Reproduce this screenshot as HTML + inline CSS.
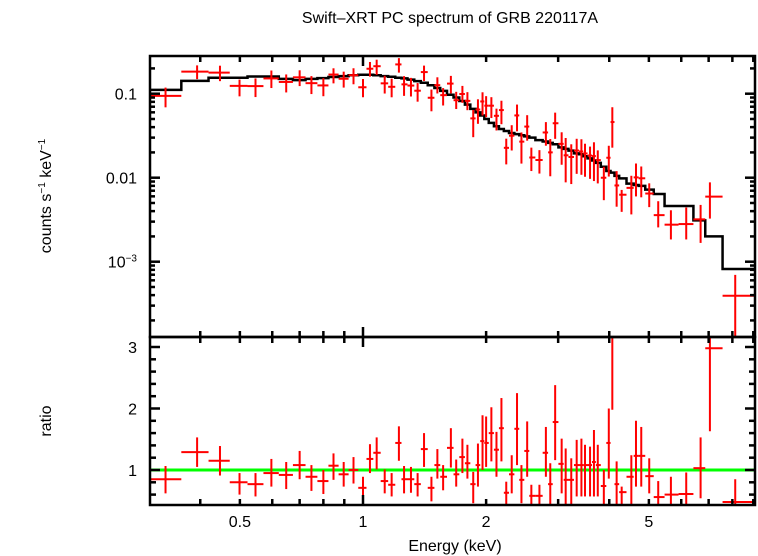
<!DOCTYPE html>
<html><head><meta charset="utf-8"><style>
html,body{margin:0;padding:0;background:#fff;}
svg{display:block;font-family:"Liberation Sans",sans-serif;}
</style></head><body>
<svg id="chart" width="758" height="556" viewBox="0 0 758 556">
<text x="450" y="23" text-anchor="middle" font-size="16">Swift–XRT PC spectrum of GRB 220117A</text>
<text transform="translate(51,196) rotate(-90)" text-anchor="middle" font-size="16">counts s<tspan font-size="10" dy="-6">−1</tspan><tspan dy="6"> keV</tspan><tspan font-size="10" dy="-6">−1</tspan></text>
<text transform="translate(51,421) rotate(-90)" text-anchor="middle" font-size="16">ratio</text>
<text x="455" y="551" text-anchor="middle" font-size="16">Energy (keV)</text>
<defs>
<clipPath id="cTop"><rect x="150" y="56" width="605" height="281"/></clipPath>
<clipPath id="cBot"><rect x="150" y="337" width="605" height="168"/></clipPath>
</defs>
<g id="topPanel" clip-path="url(#cTop)"></g>
<g id="botPanel" clip-path="url(#cBot)"></g>
<g id="axes"></g>
</svg>
<script>
const energy=[0.329,0.393,0.447,0.499,0.546,0.597,0.649,0.70,0.748,0.80,0.847,0.897,0.948,1.0,1.04,1.08,1.13,1.175,1.224,1.26,1.31,1.36,1.41,1.47,1.52,1.57,1.64,1.69,1.75,1.80,1.86,1.91,1.96,2.0,2.06,2.12,2.18,2.24,2.31,2.38,2.44,2.52,2.58,2.70,2.80,2.87,2.95,3.06,3.13,3.23,3.33,3.42,3.49,3.59,3.67,3.75,3.88,3.99,4.07,4.17,4.29,4.53,4.65,4.79,5.01,5.27,5.66,6.17,6.69,7.05,8.13];
const ratio=[0.85,1.29,1.15,0.80,0.77,0.95,0.92,1.08,0.89,0.82,1.07,0.93,1.0,0.71,1.18,1.28,0.82,0.76,1.44,0.85,0.85,0.77,1.34,0.71,1.08,0.89,1.36,0.93,1.21,1.11,0.77,1.08,1.47,1.44,1.60,1.33,1.68,0.63,0.93,1.67,0.84,1.31,0.58,0.58,1.28,0.77,1.78,1.10,0.84,0.84,1.08,1.08,1.08,1.08,1.13,1.08,0.74,1.44,4.0,0.77,0.64,0.89,1.23,1.23,0.9,0.56,0.6,0.61,1.03,2.98,0.48];
const ratioHi=[1.065,1.53,1.39,0.95,0.95,1.18,1.13,1.31,1.08,1.0,1.27,1.13,1.21,0.89,1.42,1.53,1.01,0.95,1.71,1.065,1.05,0.95,1.60,0.89,1.34,1.08,1.68,1.17,1.51,1.41,0.97,1.43,1.89,1.87,2.02,1.62,2.17,0.81,1.24,2.25,1.08,1.79,0.76,0.76,1.70,1.11,2.38,1.51,1.35,1.19,1.49,1.51,1.41,1.38,1.65,1.41,1.0,2.0,6.0,1.14,0.73,1.24,1.80,1.70,1.19,0.82,0.89,0.96,1.53,4.4,0.85];
const ratioLo=[0.62,1.05,0.91,0.60,0.57,0.73,0.69,0.85,0.66,0.61,0.84,0.73,0.78,0.54,0.95,1.01,0.62,0.57,1.15,0.62,0.63,0.57,1.05,0.49,0.86,0.67,1.04,0.73,0.95,0.86,0.46,0.73,1.0,1.05,1.14,0.89,1.14,0.40,0.62,1.08,0.46,0.89,0.40,0.40,0.89,0.40,1.16,0.62,0.40,0.40,0.57,0.57,0.57,0.57,0.57,0.57,0.40,0.86,1.98,0.43,0.40,0.43,0.73,0.73,0.62,0.40,0.40,0.40,0.54,1.63,0.05];
const model=[0.111,0.142,0.155,0.155,0.16,0.16,0.15,0.145,0.15,0.153,0.158,0.162,0.166,0.168,0.168,0.166,0.162,0.159,0.155,0.152,0.147,0.141,0.135,0.126,0.117,0.108,0.097,0.090,0.082,0.074,0.066,0.060,0.055,0.050,0.045,0.041,0.038,0.036,0.034,0.033,0.032,0.031,0.030,0.028,0.027,0.026,0.025,0.023,0.022,0.021,0.0195,0.019,0.018,0.017,0.016,0.015,0.0135,0.012,0.0115,0.0105,0.0098,0.0085,0.0082,0.008,0.0072,0.0064,0.0046,0.0046,0.0031,0.0020,0.00082];
const xTickLabels=["0.5","1","2","5"];
const xTickValues=[0.5,1,2,5];
const yTopLabels=["0.1","0.01"];
const yTopValues=[0.1,0.01];
const yRatioLabels=["1","2","3"];
const yRatioValues=[1,2,3];

const NS="http://www.w3.org/2000/svg";
const L=150,R=755,T=56,M=337,B=505;
const xs=e=>363+409*Math.log10(e);
const yt=v=>93.7-84*Math.log10(v/0.1);
const yr=r=>470-61.5*(r-1);
function mk(parent,tag,attrs){const el=document.createElementNS(NS,tag);for(const k in attrs)el.setAttribute(k,attrs[k]);parent.appendChild(el);return el;}
const gTop=document.getElementById('topPanel'),gBot=document.getElementById('botPanel'),ax=document.getElementById('axes');
const edges=[0.30];
for(let i=0;i<energy.length-1;i++)edges.push(Math.sqrt(energy[i]*energy[i+1]));
edges.push(9.2);
let d="";
for(let i=0;i<energy.length;i++){const x0=xs(edges[i]),x1=xs(edges[i+1]),y=yt(model[i]);d+=(i?"L":"M")+x0+","+y+"L"+x1+","+y;}
d+="L"+(R+5)+","+yt(model[model.length-1]);
const ml=mk(gTop,'path',{d:d,fill:'none',stroke:'#000','stroke-width':2.5});


const gl=mk(gBot,'line',{x1:L,x2:R,y1:yr(1),y2:yr(1),stroke:'#00ff00','stroke-width':3});


for(let i=0;i<energy.length;i++){
  const x=xs(energy[i]),x0=xs(edges[i]),x1=xs(edges[i+1]);
  const g1=mk(gTop,'g',{stroke:'#ff0000','stroke-width':2});
  
  
  const f=model[i]*ratio[i];
  mk(g1,'line',{x1:x0,x2:x1,y1:yt(f),y2:yt(f)});
  mk(g1,'line',{x1:x,x2:x,y1:yt(model[i]*ratioHi[i]),y2:yt(model[i]*ratioLo[i])});
  const g2=mk(gBot,'g',{stroke:'#ff0000','stroke-width':2});
  
  
  mk(g2,'line',{x1:x0,x2:x1,y1:yr(ratio[i]),y2:yr(ratio[i])});
  mk(g2,'line',{x1:x,x2:x,y1:yr(ratioHi[i]),y2:yr(ratioLo[i])});
}
const f1=mk(ax,'rect',{x:L,y:T,width:R-L,height:M-T,fill:'none',stroke:'#000','stroke-width':2.5});


const f2=mk(ax,'rect',{x:L,y:M,width:R-L,height:B-M,fill:'none',stroke:'#000','stroke-width':2.5});


function tk(x1,y1,x2,y2){mk(ax,'line',{x1:x1,y1:y1,x2:x2,y2:y2,stroke:'#000','stroke-width':2.5});}
const xt=[0.4,0.5,0.6,0.7,0.8,0.9,1,2,3,4,5,6,7,8,9];
xt.forEach(e=>{const x=xs(e);if(x<L||x>R)return;const len=(e===1)?10:6;
  tk(x,T,x,T+len);tk(x,M-len,x,M+len);tk(x,B,x,B-len);});
for(let dec=-4;dec<=-1;dec++){for(let m=1;m<=9;m++){const v=m*Math.pow(10,dec);const y=yt(v);if(y<T||y>M)continue;const len=m===1?10:5;tk(L,y,L+len,y);tk(R,y,R-len,y);}}
for(let r=0.6;r<=3.11;r+=0.2){const y=yr(r);const isM=Math.abs(r-Math.round(r))<0.01;const len=isM?10:6;tk(L,y,L+len,y);tk(R,y,R-len,y);}
xTickLabels.forEach((t,i)=>{const el=mk(ax,'text',{x:xs(xTickValues[i]),y:527,'text-anchor':'middle','font-size':16});el.textContent=t;

});
yTopLabels.forEach((t,i)=>{const el=mk(ax,'text',{x:137,y:yt(yTopValues[i])+6,'text-anchor':'end','font-size':16});el.textContent=t;

});
const e3=mk(ax,'text',{x:137,y:yt(0.001)+6,'text-anchor':'end','font-size':16});
e3.textContent='10';
const sup=mk(e3,'tspan',{'font-size':10,dy:-6});
sup.textContent='−3';


yRatioLabels.forEach((t,i)=>{const el=mk(ax,'text',{x:137,y:yr(yRatioValues[i])+6,'text-anchor':'end','font-size':16});el.textContent=t;

});
</script>
</body></html>
